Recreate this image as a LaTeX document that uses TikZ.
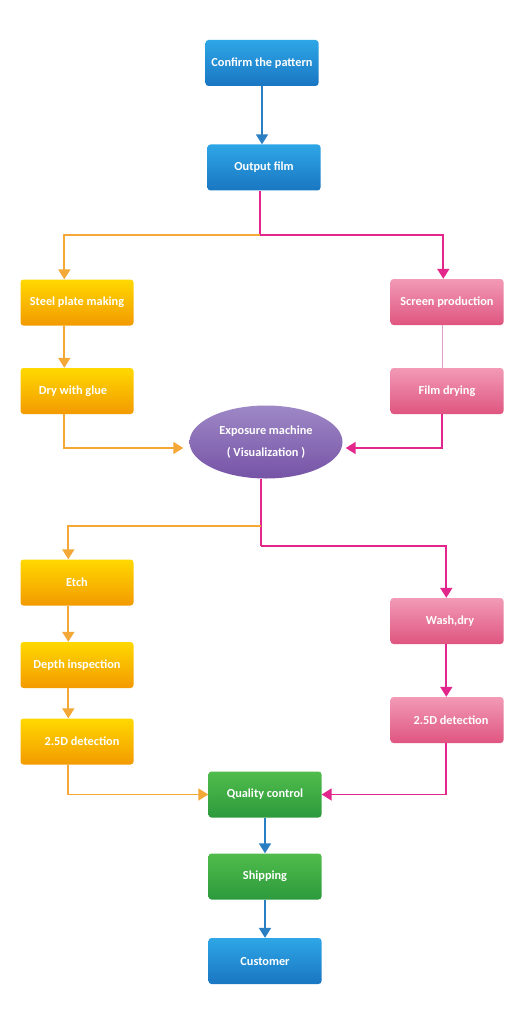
\documentclass[tikz,border=0pt]{standalone}
\usepackage{fontspec}
\setmainfont{Carlito}
\usetikzlibrary{arrows.meta,shapes.geometric,calc}
\definecolor{bluetop}{HTML}{2EA6E6}
\definecolor{bluebot}{HTML}{1A76C2}
\definecolor{orgtop}{HTML}{FFD800}
\definecolor{orgbot}{HTML}{F39A00}
\definecolor{pinktop}{HTML}{F29AB6}
\definecolor{pinkbot}{HTML}{DF5580}
\definecolor{grntop}{HTML}{50BC4C}
\definecolor{grnbot}{HTML}{2C9A3C}
\definecolor{purtop}{HTML}{9E88C6}
\definecolor{purbot}{HTML}{7653A6}
\definecolor{orgline}{HTML}{F4A838}
\definecolor{pinkline}{HTML}{E3268C}
\definecolor{blueline}{HTML}{2A7EC2}
\definecolor{thinpink}{HTML}{DDA0CC}
\tikzset{
  box/.style={rectangle, rounded corners=3pt, minimum width=113pt, minimum height=46pt,
    inner sep=0pt, shading=axis, text=white, font=\fontsize{12.3}{14}\selectfont\bfseries},
  bluebox/.style={box, top color=bluetop, bottom color=bluebot},
  orgbox/.style={box, top color=orgtop, bottom color=orgbot},
  pinkbox/.style={box, top color=pinktop, bottom color=pinkbot},
  grnbox/.style={box, top color=grntop, bottom color=grnbot},
  conn/.style={line width=1.8pt, -{Triangle[width=12pt,length=10pt]}},
  oconn/.style={conn, draw=orgline, color=orgline},
  pconn/.style={conn, draw=pinkline, color=pinkline},
  bconn/.style={conn, draw=blueline, color=blueline},
}
\begin{document}
\begin{tikzpicture}[x=1pt,y=-1pt]
\useasboundingbox (0,0) rectangle (530,1024);
\fill[white] (0,0) rectangle (530,1024);
% nodes
\node[bluebox] (confirm) at (262,63) {Confirm the pattern};
\node[bluebox] (output) at (264,167.5) {Output film};
\node[orgbox] (steel) at (77,302.5) {Steel plate making};
\node[pinkbox] (screen) at (447,302) {Screen production};
\node[orgbox] (dry) at (77,391) {\hspace*{-8pt}Dry with glue};
\node[pinkbox] (filmdry) at (447,391) {Film drying};
\node[ellipse, minimum width=153pt, minimum height=73pt, inner sep=0pt, shading=axis,
  top color=purtop, bottom color=purbot, text=white, align=center,
  font=\fontsize{12.3}{22}\selectfont\bfseries] (expo) at (266,442)
  {Exposure machine\\( Visualization )};
\node[orgbox] (etch) at (77,582.5) {Etch};
\node[orgbox] (depth) at (77,665) {Depth inspection};
\node[orgbox] (dL) at (77,741.5) {\hspace*{10pt}2.5D detection};
\node[pinkbox] (wash) at (447,621) {\hspace*{6pt}Wash,dry};
\node[pinkbox] (dR) at (447,720) {\hspace*{8pt}2.5D detection};
\node[grnbox] (qc) at (265,794.5) {Quality control};
\node[grnbox] (ship) at (265,876.5) {Shipping};
\node[bluebox] (cust) at (265,961) {Customer};
% branch coordinates
\coordinate (s1) at ($(output.south)+(-4,44)$);
\coordinate (s2) at ($(expo.south)+(-5,47)$);
\coordinate (s3) at ($(expo.south)+(-5,67)$);
% connectors
\draw[bconn] (confirm.south) -- (confirm.south |- output.north);
\draw[line width=1.8pt, pinkline] (output.south -| s1) -- (s1);
\draw[oconn] (s1) -| ($(steel.north west)+(44,0)$);
\draw[pconn] (s1) -| ($(screen.north west)+(53,0)$);
\draw[oconn] ($(steel.south west)+(44,0)$) -- ($(dry.north west)+(44,0)$);
\draw[line width=1pt, thinpink] ($(screen.south west)+(52,0)$) -- ($(filmdry.north west)+(52,0)$);
\draw[oconn] ($(dry.south west)+(44,0)$) |- ($(expo.west)+(-6,6)$);
\draw[pconn] ($(filmdry.south west)+(52,0)$) |- ($(expo.east)+(3,6)$);
\draw[line width=1.8pt, pinkline] (expo.south -| s2) -- (s3);
\draw[oconn] (s2) -| ($(etch.north west)+(48,0)$);
\draw[pconn] (s3) -| ($(wash.north west)+(56,0)$);
\draw[oconn] ($(etch.south west)+(48,0)$) -- ($(depth.north west)+(48,0)$);
\draw[oconn] ($(depth.south west)+(48,0)$) -- ($(dL.north west)+(48,0)$);
\draw[pconn] ($(wash.south west)+(56,0)$) -- ($(dR.north west)+(56,0)$);
\draw[oconn] ($(dL.south west)+(48,0)$) |- (qc.west);
\draw[pconn] ($(dR.south west)+(56,0)$) |- (qc.east);
\draw[bconn] (qc.south) -- (ship.north);
\draw[bconn] (ship.south) -- (cust.north);
\end{tikzpicture}
\end{document}
